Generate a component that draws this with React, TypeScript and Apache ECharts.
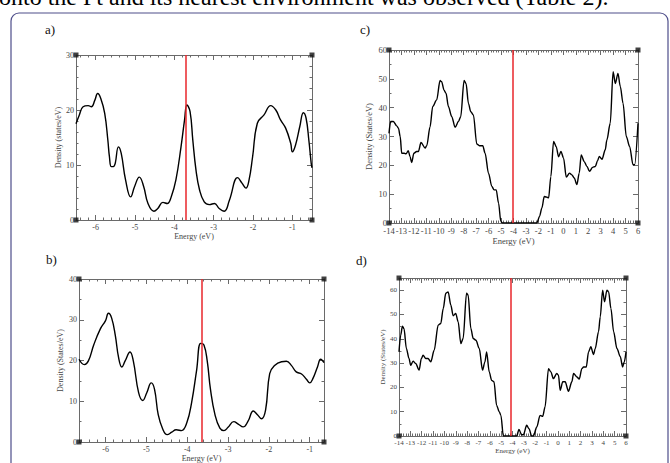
import React, { useEffect, useRef } from "react";
import * as echarts from "echarts";

// ---------- data ----------
const energyA = [-6.5, -6.42, -6.32, -6.19, -6.11, -6.02, -5.95, -5.87, -5.77, -5.69, -5.65, -5.6, -5.53, -5.42, -5.35, -5.24, -5.11, -5.01, -4.89, -4.78, -4.67, -4.52, -4.42, -4.29, -4.18, -4.08, -3.96, -3.83, -3.74, -3.68, -3.6, -3.53, -3.45, -3.36, -3.24, -3.11, -2.98, -2.86, -2.73, -2.6, -2.39, -2.28, -2.18, -2.1, -2.01, -1.89, -1.72, -1.55, -1.42, -1.3, -1.17, -1.04, -1.0, -0.92, -0.81, -0.72, -0.65, -0.58, -0.52, -0.5];
const dosA = [17.5, 19.0, 20.6, 20.8, 20.6, 21.8, 23.0, 22.1, 19.4, 14.5, 11.5, 9.7, 9.8, 13.3, 12.1, 7.3, 4.2, 6.1, 7.8, 6.1, 3.0, 1.6, 2.1, 3.2, 3.0, 4.2, 7.3, 13.3, 18.2, 20.9, 19.7, 14.5, 9.1, 5.5, 3.3, 2.8, 3.0, 2.1, 1.6, 3.6, 7.7, 6.7, 5.8, 7.3, 11.5, 17.6, 19.1, 20.8, 20.0, 18.2, 16.7, 13.9, 12.4, 13.6, 17.0, 19.5, 18.5, 14.5, 10.3, 9.5];

const energyB = [-6.65, -6.52, -6.42, -6.29, -6.13, -6.0, -5.93, -5.85, -5.76, -5.68, -5.6, -5.52, -5.4, -5.32, -5.19, -5.09, -4.99, -4.88, -4.8, -4.71, -4.6, -4.49, -4.38, -4.27, -4.14, -4.01, -3.89, -3.77, -3.67, -3.59, -3.51, -3.43, -3.32, -3.2, -3.1, -3.0, -2.86, -2.75, -2.63, -2.51, -2.38, -2.28, -2.18, -2.08, -1.98, -1.86, -1.69, -1.57, -1.45, -1.33, -1.2, -1.08, -1.0, -0.92, -0.81, -0.73, -0.65];
const dosB = [20.3, 19.0, 19.9, 23.8, 27.7, 29.8, 31.6, 30.4, 26.1, 20.7, 18.4, 19.9, 22.1, 19.9, 12.1, 10.2, 12.1, 14.5, 12.9, 6.7, 3.2, 1.8, 2.4, 3.0, 2.8, 4.7, 9.8, 17.6, 24.2, 23.8, 19.9, 12.9, 6.7, 3.4, 2.8, 3.6, 5.0, 4.4, 3.7, 5.1, 7.6, 6.7, 5.7, 7.9, 16.8, 18.8, 19.7, 19.8, 18.8, 17.2, 16.7, 15.4, 14.5, 15.6, 18.4, 20.3, 19.5];

const energyC = [-14, -13.87, -13.65, -13.38, -13.24, -13.1, -12.98, -12.77, -12.63, -12.45, -12.31, -12.18, -12.0, -11.78, -11.64, -11.43, -11.1, -10.97, -10.7, -10.49, -10.17, -9.9, -9.77, -9.58, -9.42, -9.23, -8.96, -8.69, -8.42, -8.24, -7.97, -7.81, -7.62, -7.43, -7.22, -6.95, -6.74, -6.47, -6.28, -6.01, -5.74, -5.56, -5.39, -5.2, -5.02, -4.9, -4.0, -3.0, -2.12, -1.91, -1.72, -1.53, -1.37, -1.18, -1.0, -0.78, -0.57, -0.38, -0.19, 0.02, 0.24, 0.5, 0.69, 0.88, 1.09, 1.28, 1.44, 1.68, 1.9, 2.11, 2.35, 2.57, 2.76, 2.89, 3.11, 3.37, 3.5, 3.77, 4.0, 4.18, 4.39, 4.58, 4.8, 5.06, 5.33, 5.6, 5.73, 6.0];
const dosC = [31.1, 35.2, 35.2, 33.7, 32.9, 30.0, 24.2, 24.2, 24.0, 25.1, 23.0, 21.0, 24.2, 24.8, 24.8, 27.9, 26.0, 26.8, 33.4, 40.4, 42.7, 49.4, 49.0, 46.1, 45.0, 40.4, 36.9, 33.2, 35.2, 36.9, 49.4, 48.4, 41.5, 38.6, 37.5, 27.4, 26.8, 26.8, 24.2, 17.3, 12.7, 11.5, 11.5, 6.9, 0.6, 0, 0, 0, 0, 2.3, 5.2, 9.2, 9.0, 8.7, 16.1, 28.3, 26.5, 23.0, 24.8, 22.5, 15.9, 17.3, 16.7, 15.6, 13.3, 17.3, 23.6, 21.3, 19.6, 17.9, 19.3, 19.6, 21.7, 23.1, 22.1, 25.4, 28.8, 34.6, 52.5, 48.4, 51.9, 47.3, 41.5, 30.0, 26.5, 20.2, 20.2, 34.6];

const energyD = [-14, -13.85, -13.7, -13.56, -13.35, -13.12, -12.97, -12.76, -12.53, -12.23, -12.03, -11.88, -11.64, -11.44, -11.2, -10.9, -10.55, -10.32, -10.1, -9.88, -9.67, -9.43, -9.23, -9.0, -8.79, -8.55, -8.35, -8.05, -7.91, -7.67, -7.46, -7.22, -6.93, -6.64, -6.43, -6.28, -6.05, -5.84, -5.63, -5.4, -5.16, -5.02, -4.81, -4.0, -3.63, -3.43, -3.2, -3.04, -2.75, -2.55, -2.31, -2.16, -1.86, -1.57, -1.34, -1.13, -0.83, -0.62, -0.4, -0.1, 0.05, 0.2, 0.43, 0.64, 0.93, 1.23, 1.38, 1.67, 1.88, 2.11, 2.26, 2.5, 2.7, 2.9, 3.14, 3.29, 3.58, 3.73, 3.94, 4.11, 4.32, 4.47, 4.67, 4.91, 5.2, 5.5, 5.7, 5.85, 6.0];
const dosD = [34.6, 41.5, 45.2, 44.2, 36.0, 31.9, 29.1, 30.8, 29.8, 27.1, 31.9, 33.2, 31.9, 31.9, 30.5, 35.3, 45.6, 46.3, 52.5, 58.7, 59.3, 53.8, 49.5, 50.4, 47.0, 38.0, 40.1, 58.7, 58.0, 44.2, 40.1, 39.4, 36.0, 27.1, 30.5, 34.6, 26.4, 22.9, 22.3, 12.6, 9.9, 8.5, 0, 0, 0, 2.7, 0.5, 0.5, 4.4, 3.0, 0, 0, 3.7, 8.5, 8.1, 12.0, 27.7, 26.4, 23.6, 25.7, 25.0, 18.8, 22.3, 22.3, 18.4, 22.3, 25.7, 24.3, 23.4, 27.7, 28.4, 28.4, 34.6, 36.7, 33.5, 36.0, 42.9, 49.0, 60.0, 55.2, 60.0, 59.3, 52.5, 42.9, 36.0, 32.6, 28.4, 30.5, 34.6];

const fermiLevels = [-3.7, -3.65, -4.08, -4.15];
const panelLabels = ["a)", "b)", "c)", "d)"];
const yNames = ["Density (states/eV)", "Density (States/eV)", "Density (States/eV)", "Density (States/eV)"];
const xName = "Energy (eV)";
const xRanges = [[-6.5, -0.5], [-6.65, -0.65], [-14, 6], [-14, 6]];
const yMaxes = [30, 40, 60, 65];
const caption = "onto the Pt and its nearest environment was observed (Table 2).";

const SERIF = "'Liberation Serif', 'Times New Roman', serif";

export default function App() {
  const ref = useRef<HTMLDivElement>(null);

  useEffect(() => {
    if (!ref.current) return;
    const chart = echarts.init(ref.current, undefined, { renderer: "svg" });

    const xs = [energyA, energyB, energyC, energyD];
    const ys = [dosA, dosB, dosC, dosD];

    // layout per panel
    const grids = [
      { left: 76, top: 55, width: 236, height: 165 },
      { left: 79, top: 279, width: 245, height: 171 },
      { left: 389, top: 50, width: 249, height: 173 },
      { left: 399, top: 278, width: 227, height: 158 },
    ];
    const yMinorSplit = [5, 2, 2, 2];
    const fontSz = [8, 8, 8.5, 7];
    const yNameGap = [14, 15, 16, 13];
    const xNameGap = [12, 12, 13, 11];
    const smoothness = [0.45, 0.45, 0.3, 0.3];
    const monotone = [undefined, undefined, "x", "x"];
    const labelPos = [
      [45, 29],
      [46, 259],
      [360, 29],
      [356, 260],
    ];

    const axisColor = "#6a6a6a";
    const labelColor = "#454545";

    const xAxes: any[] = [];
    const yAxes: any[] = [];
    const series: any[] = [];

    grids.forEach((g, i) => {
      const [xmin, xmax] = xRanges[i];
      const ymax = yMaxes[i];
      const intX = Number.isInteger(xmin);
      const baseX: any = {
        type: "value",
        gridIndex: i,
        min: xmin,
        max: xmax,
        ...(intX ? { interval: 1 } : { splitNumber: 5 }),
        axisLine: { show: true, onZero: false, lineStyle: { color: axisColor, width: 1 } },
        axisTick: { show: true, inside: true, length: 5, lineStyle: { color: axisColor } },
        minorTick: { show: true, splitNumber: 5, length: 2.5, lineStyle: { color: axisColor } },
        splitLine: { show: false },
      };
      xAxes.push({
        ...baseX,
        position: "bottom",
        name: xName,
        nameLocation: "middle",
        nameGap: xNameGap[i],
        nameTextStyle: { fontFamily: SERIF, fontSize: fontSz[i], color: labelColor },
        axisLabel: {
          fontFamily: SERIF,
          fontSize: fontSz[i],
          color: labelColor,
          margin: 3,
          formatter: (v: number) => (Math.abs(v - Math.round(v)) < 1e-6 ? String(Math.round(v)) : ""),
        },
      });
      xAxes.push({ ...baseX, position: "top", axisLabel: { show: false } });

      const baseY: any = {
        type: "value",
        gridIndex: i,
        min: 0,
        max: ymax,
        interval: 10,
        axisLine: { show: true, onZero: false, lineStyle: { color: axisColor, width: 1 } },
        axisTick: { show: true, inside: true, length: 5, lineStyle: { color: axisColor } },
        minorTick: { show: true, splitNumber: yMinorSplit[i], length: 2.5, lineStyle: { color: axisColor } },
        splitLine: { show: false },
      };
      yAxes.push({
        ...baseY,
        position: "left",
        name: yNames[i],
        nameLocation: "middle",
        nameGap: yNameGap[i],
        nameRotate: 90,
        nameTextStyle: { fontFamily: SERIF, fontSize: fontSz[i], color: labelColor },
        axisLabel: {
          fontFamily: SERIF,
          fontSize: fontSz[i],
          color: labelColor,
          margin: 2,
          formatter: (v: number) => (v % 10 === 0 ? String(v) : ""),
        },
      });
      yAxes.push({ ...baseY, position: "right", axisLabel: { show: false } });

      const lineSeries: any = {
        type: "line",
        xAxisIndex: i * 2,
        yAxisIndex: i * 2,
        data: xs[i].map((x, k) => [x, ys[i][k]]),
        showSymbol: false,
        smooth: smoothness[i],
        lineStyle: { color: "#000", width: 1.4 },
        itemStyle: { color: "#000" },
        clip: true,
        markLine: {
          silent: true,
          symbol: "none",
          label: { show: false },
          lineStyle: { color: "#e8262b", width: 1.5, type: "solid" },
          data: [{ xAxis: fermiLevels[i] }],
        },
        z: 3,
      };
      if (monotone[i]) lineSeries.smoothMonotone = monotone[i];
      series.push(lineSeries);
      series.push({
        type: "scatter",
        xAxisIndex: i * 2,
        yAxisIndex: i * 2,
        symbol: "rect",
        symbolSize: 5,
        clip: false,
        itemStyle: { color: "#111" },
        data: [
          [xmin, 0],
          [xmin, ymax],
          [xmax, ymax],
          [xmax, 0],
        ],
        z: 4,
      });
    });

    const graphic: any[] = [
      {
        type: "text",
        left: -1,
        top: -15,
        style: { text: caption, fontFamily: SERIF, fontSize: 24, fill: "#000" },
      },
      {
        type: "rect",
        shape: { x: 11, y: 13, width: 657, height: 470, r: 8 },
        style: { fill: "none", stroke: "#4e4e8a", lineWidth: 1.2 },
        z: 0,
      },
      ...panelLabels.map((t, i) => ({
        type: "text",
        x: labelPos[i][0],
        y: labelPos[i][1],
        style: {
          text: t,
          fontFamily: SERIF,
          fontSize: 13,
          fill: "#111",
          verticalAlign: "middle",
        },
      })),
    ];

    chart.setOption({
      animation: false,
      backgroundColor: "#fff",
      grid: grids.map((g) => ({ ...g, containLabel: false })),
      xAxis: xAxes,
      yAxis: yAxes,
      series,
      graphic,
    });

    return () => chart.dispose();
  }, []);

  return (
    <div
      ref={ref}
      style={{ position: "fixed", left: 0, top: 0, width: 670, height: 463, background: "#fff" }}
    />
  );
}
